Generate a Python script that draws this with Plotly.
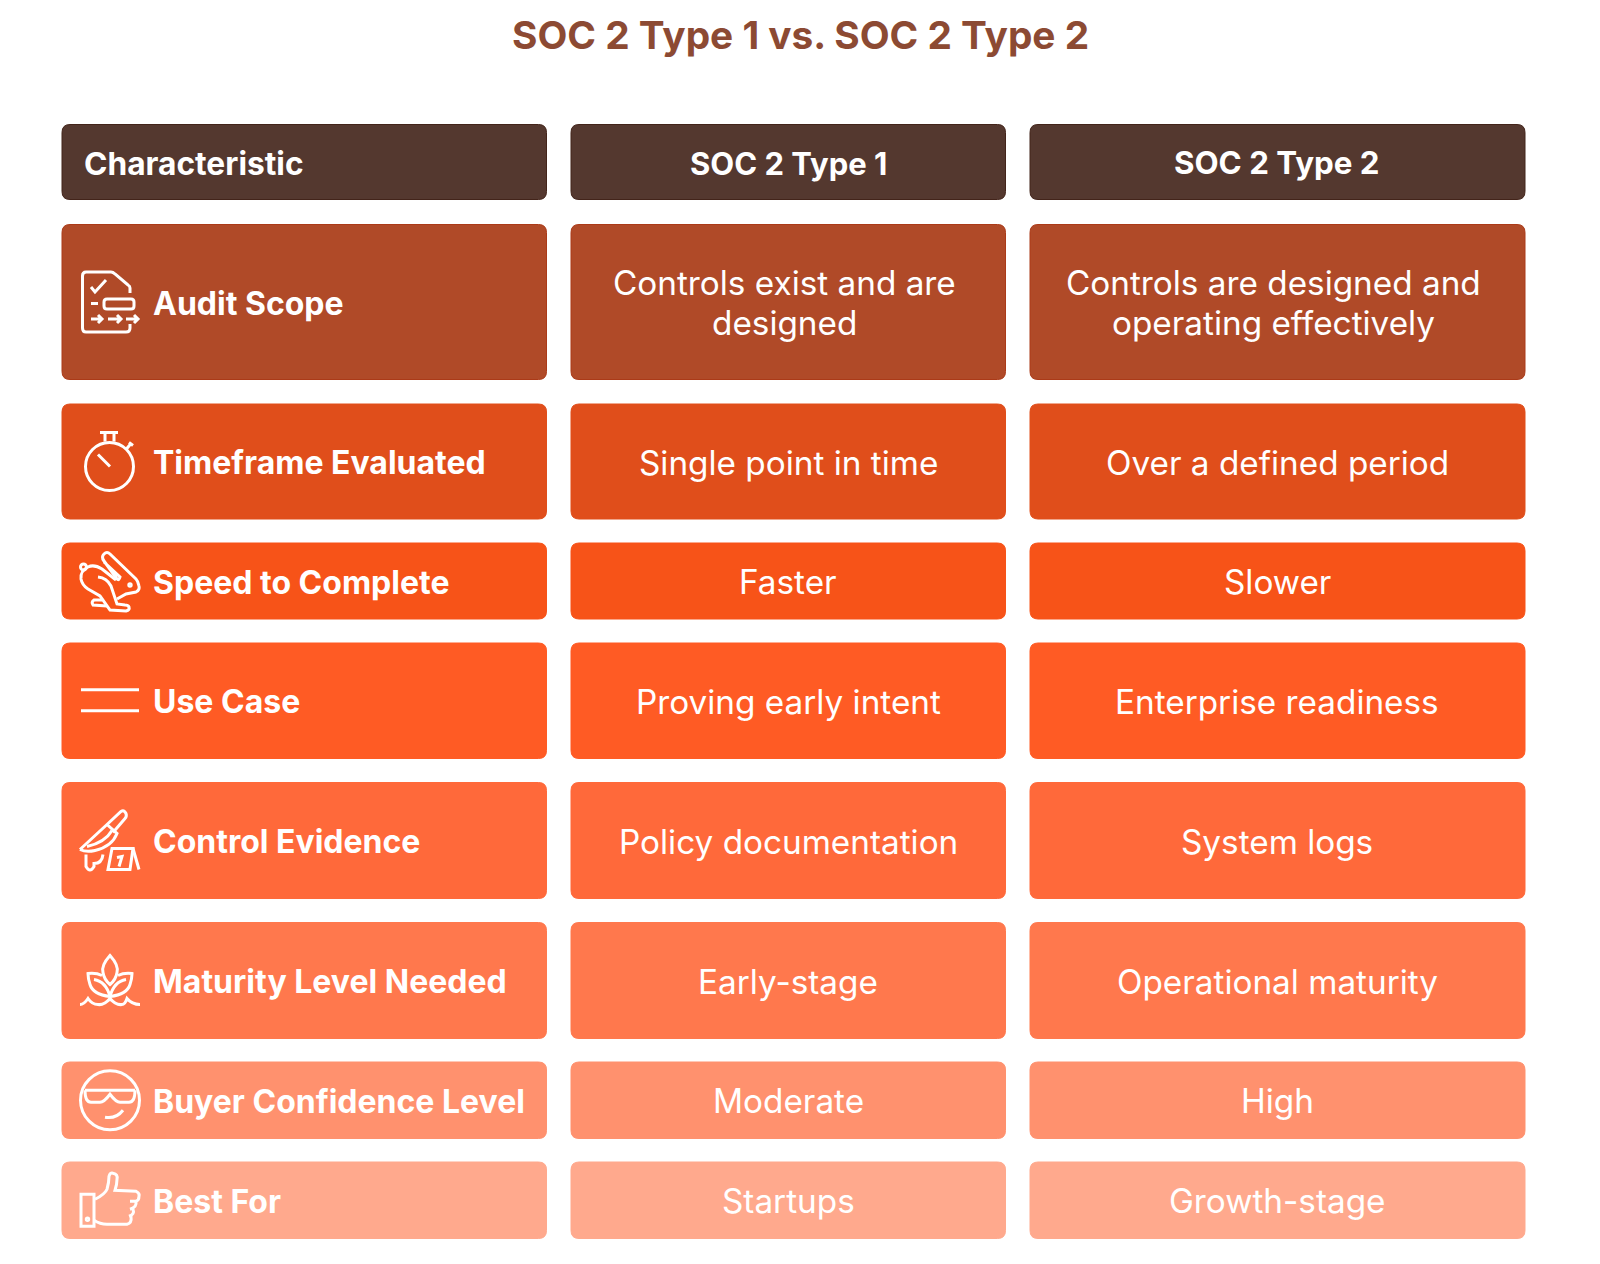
import re
import plotly.graph_objects as go

title = "SOC 2 Type 1 vs. SOC 2 Type 2"
headers = ["Characteristic", "SOC 2 Type 1", "SOC 2 Type 2"]
characteristics = [
    "Audit Scope",
    "Timeframe Evaluated",
    "Speed to Complete",
    "Use Case",
    "Control Evidence",
    "Maturity Level Needed",
    "Buyer Confidence Level",
    "Best For",
]
type_1 = [
    "Controls exist and are<br>designed",
    "Single point in time",
    "Faster",
    "Proving early intent",
    "Policy documentation",
    "Early-stage",
    "Moderate",
    "Startups",
]
type_2 = [
    "Controls are designed and<br>operating effectively",
    "Over a defined period",
    "Slower",
    "Enterprise readiness",
    "System logs",
    "Operational maturity",
    "High",
    "Growth-stage",
]

# layout, in page pixels
col_edges = [(62, 546.5), (571, 1005.5), (1030, 1525)]
col_centers = [0, 788, 1277]
header_band = (124.5, 199.5)
row_bands = [
    (224.5, 379.5),
    (404, 519),
    (543, 619),
    (643, 758.5),
    (782.5, 898.5),
    (922.5, 1038.5),
    (1062, 1138.5),
    (1162, 1238.5),
]
row_colors = ["#b04a28", "#e04e1b", "#f75318", "#ff5b24", "#ff693a", "#ff784d", "#ff916e", "#ffa98d"]
row_edges = ["#ab3a18", "#e04e1b", "#f75318", "#ff5b24", "#ff693a", "#ff784d", "#ff916e", "#ffa98d"]
header_color = "#54382f"
header_edge = "#43241a"
title_color = "#8c4a33"
label_font = "Inter"
body_font = "Inter"
line_gap = 40


def circle(cx, cy, r):
    k = r * 0.5523
    return (
        f"M{cx - r},{cy} C{cx - r},{cy - k} {cx - k},{cy - r} {cx},{cy - r} "
        f"C{cx + k},{cy - r} {cx + r},{cy - k} {cx + r},{cy} "
        f"C{cx + r},{cy + k} {cx + k},{cy + r} {cx},{cy + r} "
        f"C{cx - k},{cy + r} {cx - r},{cy + k} {cx - r},{cy} Z"
    )


# icons are drawn in a 60x60 box and moved next to the row label
icons = [
    [
        "M50,21 L50,16 Q50,14 48,13 L35,2 Q33,0 31,0 L6,0 Q2.5,0 2.5,4 L2.5,56 Q2.5,60 6,60 L46,60 Q50,60 50,56 L50,52",
        "M11,15 L15,20 L26,8",
        "M11,31.5 L18,31.5",
        "M27,27 L51,27 Q54,27 54,30 L54,34 Q54,37 51,37 L27,37 Q24,37 24,34 L24,30 Q24,27 27,27 Z",
        "M11,47 L22,47 M18,43 L22,47 L18,51",
        "M28,47 L41,47 M37,43 L41,47 L37,51",
        "M46,47 L58,47 M54,43 L58,47 L54,51",
    ],
    [
        circle(29.5, 35, 24),
        "M20,1 L38,1 M25,1 L25,10 M34,1 L34,10",
        "M46,18 L51,12 M49,11 L53,14",
        "M18,23 L30,35",
    ],
    [
        "M37,48 L46,43 L56,41 Q60,39 59,35 Q58,30 56,28 L30,3 Q27,0 24,3 Q21,6 24,10 L37,28 Q39,30 40,26 L24,11",
        "M36,29 L22,18 Q14,13 8,16 Q0,20 1,28 Q2,34 8,38 L20,45 L30,59 L46,60 Q50,59 49,56 Q48,54 45,54 L37,53 L31,35 Q27,27 18,26",
        circle(3.5, 16, 3),
        circle(50, 34, 1.2),
        "M22,49 L14,49 Q11,51 13,54 L27,55",
    ],
    ["M1,19 L59,19", "M1,40 L59,40"],
    [
        "M0,39 L27,14 L41,1 Q44,-1 46,3 Q47,6 45,8 L33,22",
        "M27,14 L37,23 Q32,36 15,40 Q6,42 0,39",
        "M7,36 Q25,32 32,20",
        "M6,44 L6,56 Q10,63 14,56 L14,53 Q22,53 23,44",
        "M32,38 L53,38 L50,59 L28,59 Z",
        "M53,38 L59,59",
        "M37,47 L42,46 L39,56",
    ],
    [
        "M30,5 Q21,15 23,22 Q24,29 30,34 Q36,29 37,22 Q39,15 30,5 Z",
        "M30,46 Q13,44 10,34 Q8,28 8,23 Q16,22 22,25",
        "M30,46 Q47,44 50,34 Q52,28 52,23 Q44,22 38,25",
        "M14,29 Q26,31 30,46 Q34,31 46,29",
        "M0,54 Q4,54 8,48 Q12,54 18,54 Q24,55 30,48 Q36,55 42,54 Q45,54 47,48 Q52,54 60,54",
    ],
    [
        circle(30, 30, 29.5),
        "M5,20 L55,20",
        "M5,20 Q5,32 11,32 L20,32 Q24,32 30,24 Q36,32 40,32 L49,32 Q55,32 55,20",
        "M25,47 Q36,49 43,40",
    ],
    [
        "M1,24 L14,24 L14,56 L1,56 Z",
        circle(7.5, 49, 1.2),
        "M15,29 Q25,24 27,19 Q29,12 29,6 Q30,2 33,3 Q38,4 37,9 Q37,14 35,20 L56,21 Q60,23 59,26 Q59,30 56,31 L50,31 "
        "M56,31 Q57,37 50,39 M53,39 Q55,44 49,46 M51,46 Q52,53 47,54 L27,54 Q20,54 14,50",
    ],
]


def shift_path(path, dx, dy):
    # every number alternates x, y because only M L Q C Z are used
    parts = re.findall(r"[MLQCZ]|-?\d+\.?\d*", path)
    out = []
    is_x = True
    for part in parts:
        if part in "MLQCZ":
            out.append(part)
        else:
            value = float(part) + (dx if is_x else dy)
            out.append(f"{value:.2f}")
            is_x = not is_x
    return " ".join(out)


def round_rect(x0, x1, y0, y1, r=8):
    return (
        f"M{x0 + r},{y0} L{x1 - r},{y0} Q{x1},{y0} {x1},{y0 + r} L{x1},{y1 - r} "
        f"Q{x1},{y1} {x1 - r},{y1} L{x0 + r},{y1} Q{x0},{y1} {x0},{y1 - r} "
        f"L{x0},{y0 + r} Q{x0},{y0} {x0 + r},{y0} Z"
    )


shapes = []
annotations = []


def add_text(text, x, y, size, color="white", weight=400, anchor="center", family=body_font):
    annotations.append(dict(
        x=x, y=y, xref="x", yref="y", text=text, showarrow=False,
        xanchor=anchor, yanchor="middle", align="center",
        font=dict(family=family, size=size, color=color, weight=weight),
    ))


def add_body(text, x, mid):
    # plotly's line height is too loose here, so each line is its own label
    lines = text.split("<br>")
    nudge = -4 if len(lines) > 1 else 0
    first = mid - line_gap * (len(lines) - 1) / 2
    for k, line in enumerate(lines):
        add_text(line, x + nudge, first + k * line_gap, 33.3)


def add_cell(x_band, y_band, color, edge):
    shapes.append(dict(
        type="path", xref="x", yref="y", path=round_rect(x_band[0], x_band[1], y_band[0], y_band[1]),
        fillcolor=color, line=dict(width=1, color=edge), layer="below",
    ))


add_text(title, 800, 34, 38.8, color=title_color, weight=700, family=label_font)

for band in col_edges:
    add_cell(band, header_band, header_color, header_edge)
header_y = sum(header_band) / 2 + 1
add_text(headers[0], 81.5, header_y, 31.7, weight=700, anchor="left", family=label_font)
add_text(headers[1], col_centers[1], header_y, 31, weight=700, family=label_font)
add_text(headers[2], col_centers[2], header_y, 31.3, weight=700, family=label_font)

for i, label in enumerate(characteristics):
    band = row_bands[i]
    mid = sum(band) / 2 + 1
    for col in col_edges:
        add_cell(col, band, row_colors[i], row_edges[i])
    add_text(label, 151, mid, 32, weight=700, anchor="left", family=label_font)
    add_body(type_1[i], col_centers[1], mid)
    add_body(type_2[i], col_centers[2], mid)
    for sub in icons[i]:
        shapes.append(dict(
            type="path", xref="x", yref="y", path=shift_path(sub, 80, mid - 31),
            line=dict(color="white", width=3),
        ))

fig = go.Figure()
# the page keeps an 8px body margin, so the axes start at page pixel 8
fig.update_xaxes(range=[8, 1592], visible=False, fixedrange=True)
fig.update_yaxes(range=[1256, 8], visible=False, fixedrange=True)
fig.update_layout(
    width=1584,
    height=1248,
    margin=dict(l=0, r=0, t=0, b=0),
    paper_bgcolor="white",
    plot_bgcolor="white",
    shapes=shapes,
    annotations=annotations,
    showlegend=False,
)

fig.write_html("out.html")
